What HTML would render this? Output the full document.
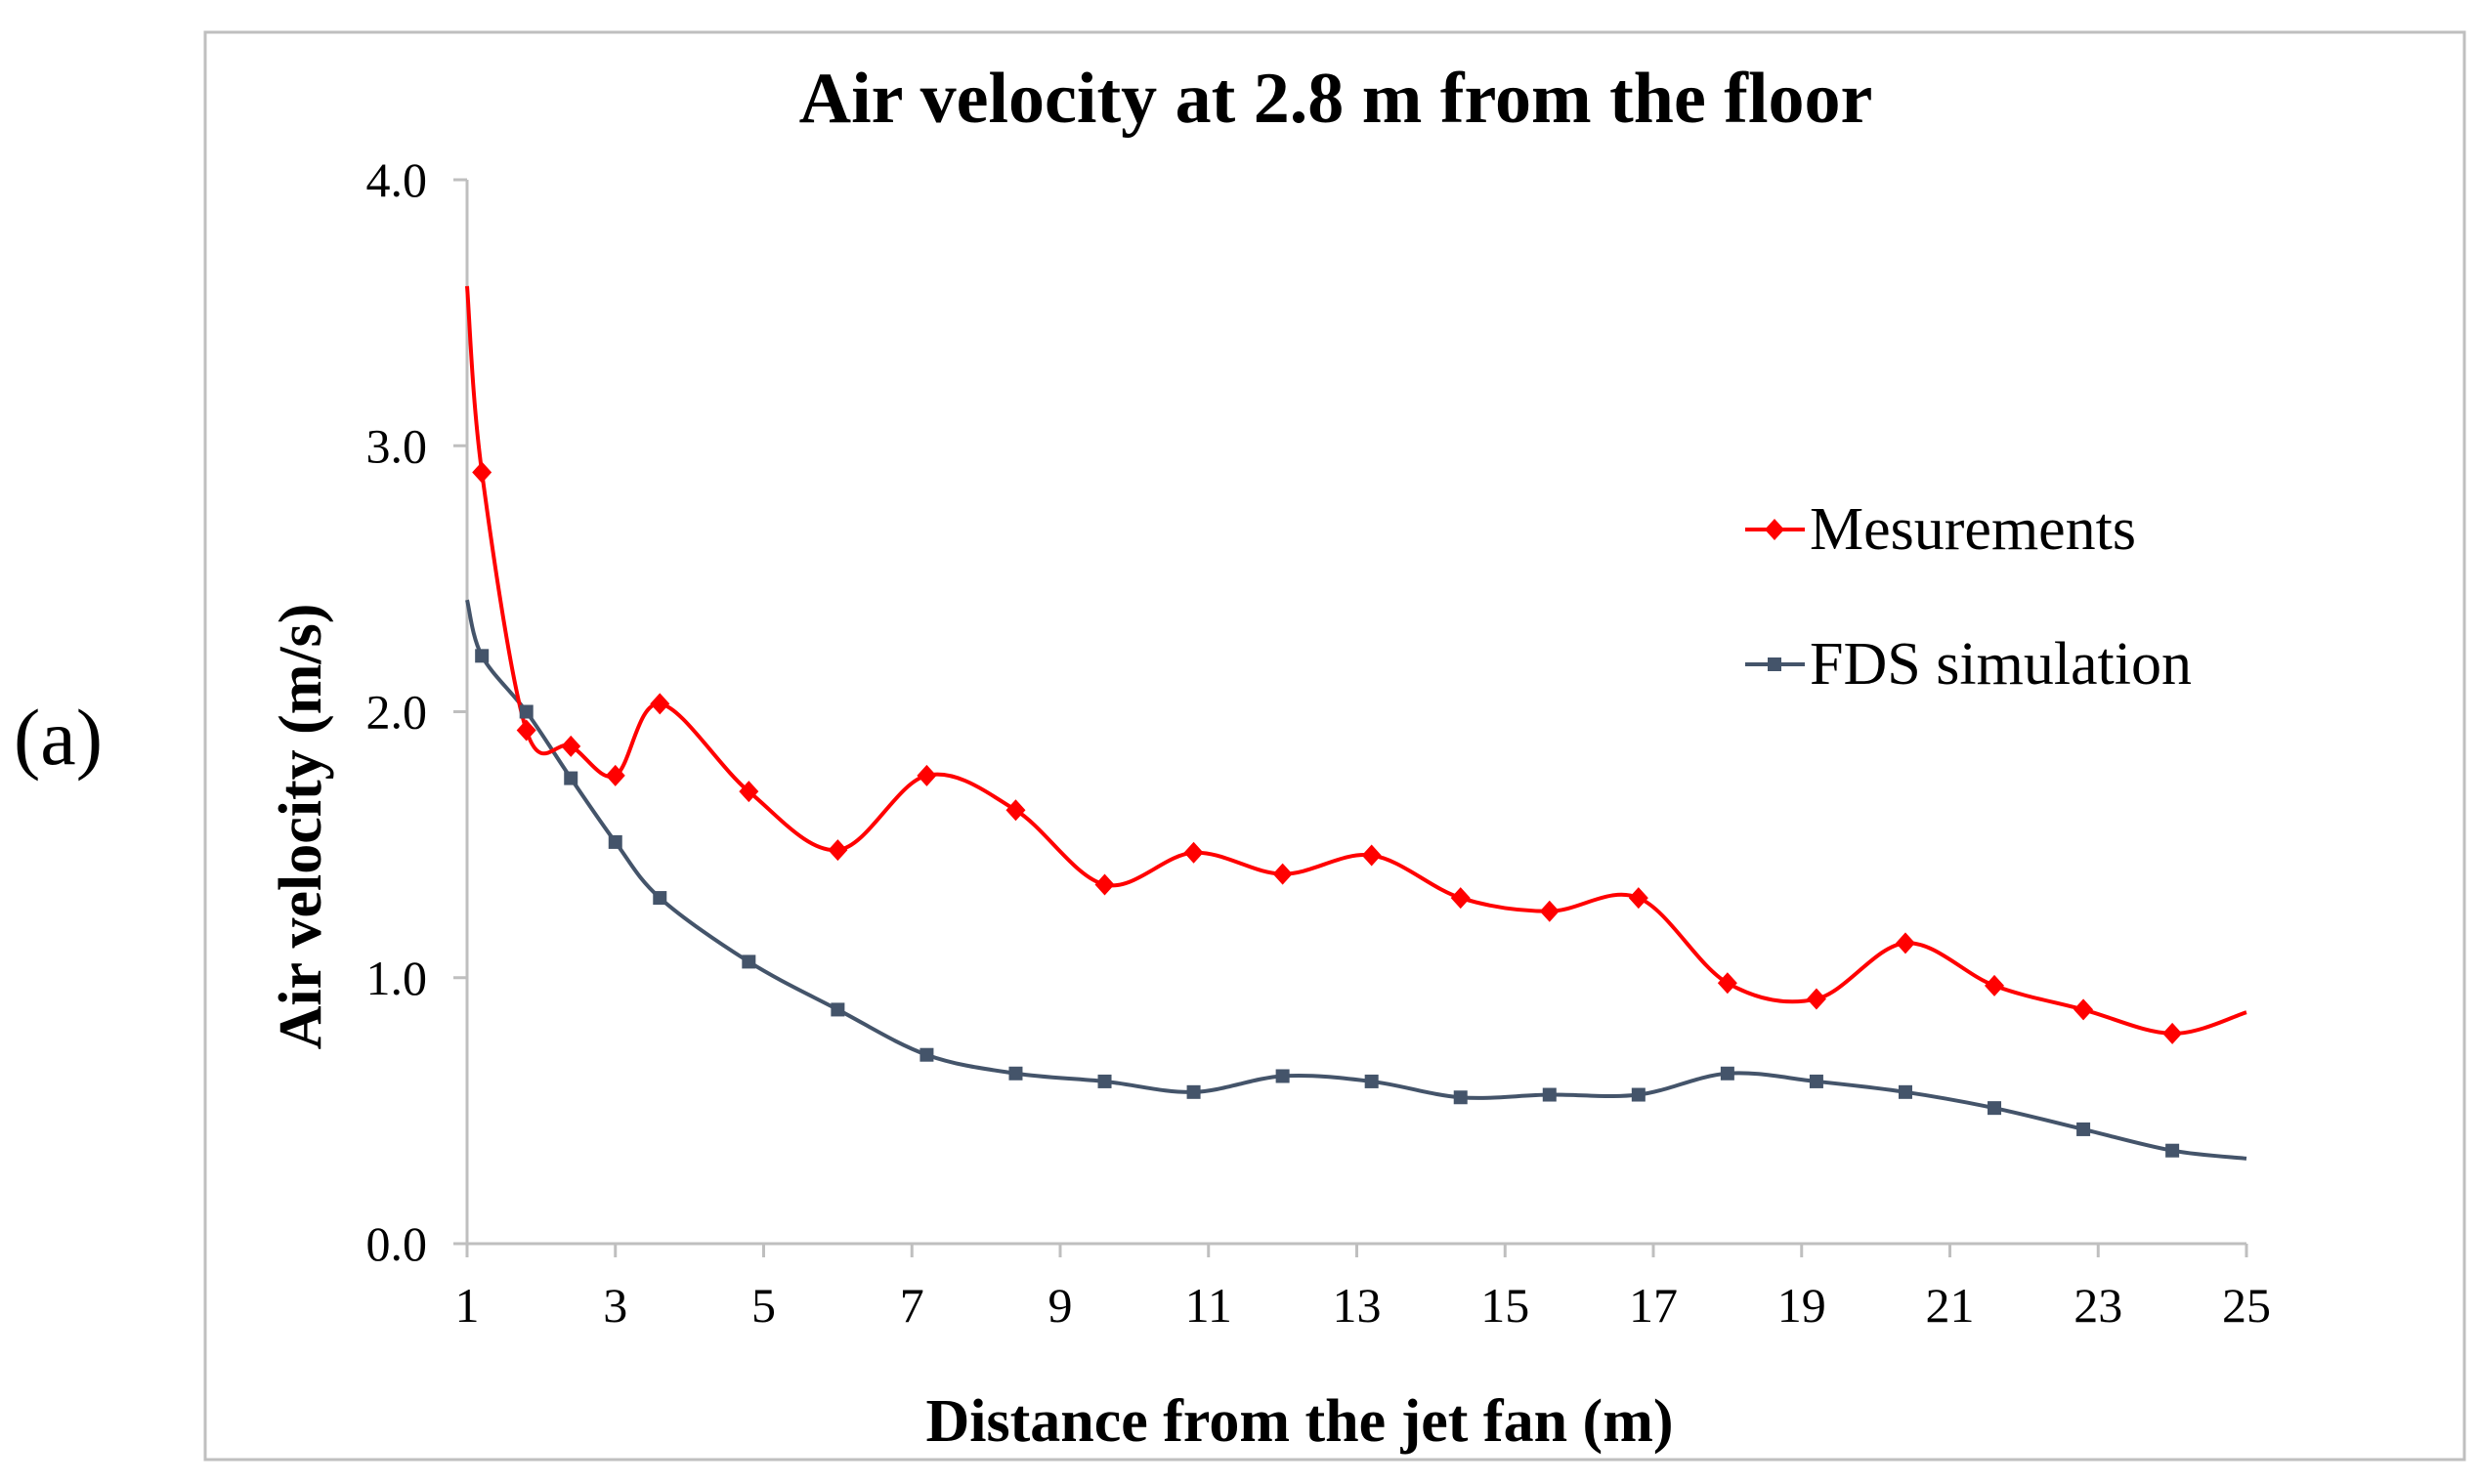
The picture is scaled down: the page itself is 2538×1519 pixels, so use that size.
<!DOCTYPE html>
<html><head><meta charset="utf-8"><style>
html,body{margin:0;padding:0;background:#fff;}
svg{display:block;}
text{font-family:"Liberation Serif",serif;fill:#000;}
</style></head><body>
<svg id="chart" width="2538" height="1519" viewBox="0 0 2538 1519">
<text x="14" y="782" font-size="82">(a)</text>
<rect x="210" y="33" width="2312" height="1461" fill="#fff" stroke="#bfbfbf" stroke-width="3"/>
<text x="1367" y="125" font-size="74" font-weight="bold" text-anchor="middle">Air velocity at 2.8 m from the floor</text>
<g id="axes"></g>
<g id="series"></g>
<text x="1330" y="1475" font-size="62" font-weight="bold" text-anchor="middle">Distance from the jet fan (m)</text>
<text transform="translate(328,846) rotate(-90)" font-size="62" font-weight="bold" text-anchor="middle">Air velocity (m/s)</text>
<g>
<g>
<line x1="1786" y1="542" x2="1847" y2="542" stroke="#ff0000" stroke-width="4"/>
<path d="M1816 531 L1826 542 L1816 553 L1806 542Z" fill="#ff0000"/>
<text x="1852" y="562" font-size="62">Mesurements</text>
</g>
<g>
<line x1="1786" y1="680" x2="1847" y2="680" stroke="#44546a" stroke-width="4"/>
<rect x="1809" y="673" width="14" height="14" fill="#44546a"/>
<text x="1852" y="700" font-size="62">FDS simulation</text>
</g>
</g>
</svg>
<script>
const xPos = [1,1.2,1.8,2.4,3.0,3.6,4.8,6.0,7.2,8.4,9.6,10.8,12,13.2,14.4,15.6,16.8,18,19.2,20.4,21.6,22.8,24,25];
const measured = [3.6,2.9,1.93,1.87,1.76,2.03,1.7,1.48,1.76,1.63,1.35,1.47,1.39,1.46,1.3,1.25,1.3,0.98,0.92,1.13,0.97,0.88,0.79,0.87];
const fds = [2.42,2.21,2.0,1.75,1.51,1.3,1.06,0.88,0.71,0.64,0.61,0.57,0.63,0.61,0.55,0.56,0.56,0.64,0.61,0.57,0.51,0.43,0.35,0.32];
const xTicks = [1,3,5,7,9,11,13,15,17,19,21,23,25];
const yTicks = [0,1,2,3,4];
const yTickLabels = ["0.0","1.0","2.0","3.0","4.0"];

const L=478,R=2299,T=184,B=1273;
const sx=v=>L+(v-1)/(25-1)*(R-L);
const sy=v=>B-(v/4)*(B-T);
const NS="http://www.w3.org/2000/svg";
function mk(tag,attrs,parent){const e=document.createElementNS(NS,tag);for(const k in attrs)e.setAttribute(k,attrs[k]);parent.appendChild(e);return e;}
const axes=document.getElementById('axes'), series=document.getElementById('series');

let e=mk('line',{x1:L,y1:T,x2:L,y2:B,stroke:'#bfbfbf','stroke-width':3},axes);


e=mk('line',{x1:L,y1:B,x2:R,y2:B,stroke:'#bfbfbf','stroke-width':3},axes);


yTicks.forEach((v,i)=>{
  mk('line',{x1:L-14,y1:sy(v),x2:L,y2:sy(v),stroke:'#bfbfbf','stroke-width':3},axes);
  const t=mk('text',{x:L-41,y:sy(v)+17,'font-size':50,'text-anchor':'end'},axes);
  t.textContent=yTickLabels[i];
  
  
});
xTicks.forEach(v=>{
  mk('line',{x1:sx(v),y1:B,x2:sx(v),y2:B+14,stroke:'#bfbfbf','stroke-width':3},axes);
  const t=mk('text',{x:sx(v),y:B+80,'font-size':50,'text-anchor':'middle'},axes);
  t.textContent=String(v);
  
  
});
function smooth(xs,ys){
  const p=xs.map((x,i)=>[sx(x),sy(ys[i])]);
  let d=`M${p[0][0]},${p[0][1]}`;
  for(let i=0;i<p.length-1;i++){
    const p0=p[i-1]||p[i],p1=p[i],p2=p[i+1],p3=p[i+2]||p2;
    const k=1/6;
    d+=` C${p1[0]+(p2[0]-p0[0])*k},${p1[1]+(p2[1]-p0[1])*k} ${p2[0]-(p3[0]-p1[0])*k},${p2[1]-(p3[1]-p1[1])*k} ${p2[0]},${p2[1]}`;
  }
  return d;
}
e=mk('path',{d:smooth(xPos,fds),fill:'none',stroke:'#44546a','stroke-width':4},series);


e=mk('path',{d:smooth(xPos,measured),fill:'none',stroke:'#ff0000','stroke-width':4},series);


for(let i=1;i<xPos.length-1;i++){
  const x=sx(xPos[i]);
  let y=sy(fds[i]);
  e=mk('rect',{x:x-7,y:y-7,width:14,height:14,fill:'#44546a'},series);
  
  
  y=sy(measured[i]);
  e=mk('path',{d:`M${x} ${y-11} L${x+10} ${y} L${x} ${y+11} L${x-10} ${y}Z`,fill:'#ff0000'},series);
  
  
}
</script>
</body></html>
